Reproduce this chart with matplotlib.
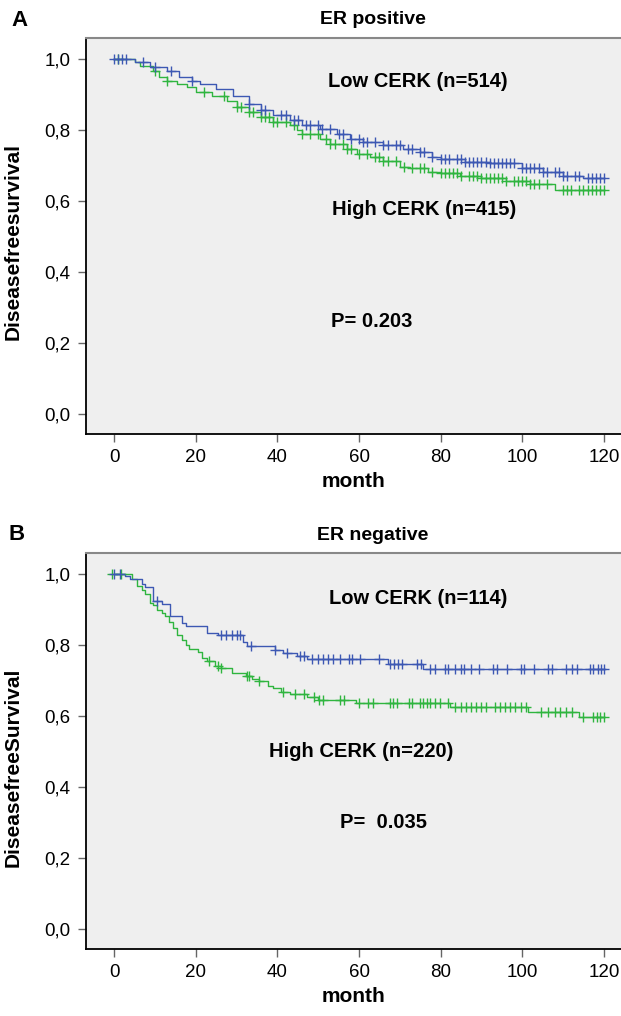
import numpy as np
import matplotlib
matplotlib.use("Agg")
import matplotlib.pyplot as plt

plt.rcParams['font.family'] = ['Liberation Sans', 'DejaVu Sans']

# ---- data (Kaplan-Meier steps: time of drop, survival after drop)
yticks = [0.0, 0.2, 0.4, 0.6, 0.8, 1.0]
ytick_labels = ['0,0', '0,2', '0,4', '0,6', '0,8', '1,0']
xticks = [0, 20, 40, 60, 80, 100, 120]

# A: ER positive
pos_low_t = [0, 5, 8.8, 13, 16, 19, 21, 25, 29, 33, 36, 39, 43, 46, 50.5, 54.5, 57.8,
             61, 66, 70.8, 75, 78, 80, 86, 92, 100, 105, 110, 115]
pos_low_s = [1.0, 0.99, 0.976, 0.966, 0.947, 0.938, 0.929, 0.915, 0.896, 0.873, 0.856,
             0.84, 0.826, 0.812, 0.803, 0.789, 0.775, 0.765, 0.756, 0.747, 0.737, 0.723,
             0.719, 0.709, 0.705, 0.691, 0.681, 0.671, 0.663]
pos_low_cens = [0, 1, 2, 3, 7, 10, 14, 19, 33, 36, 37, 41, 42, 44, 45, 47, 48, 50, 51, 53,
                55, 56, 58, 60, 61, 62, 64, 66, 67, 69, 70, 72, 73, 75, 76, 78, 80, 81, 82,
                84, 85, 86, 87, 88, 89, 90, 91, 92, 93, 94, 95, 96, 97, 98, 100, 101, 102,
                103, 104, 105, 106, 108, 109, 110, 111, 113, 114, 116, 117, 118, 119, 120]

pos_high_t = [0, 5, 6.4, 9.6, 10.9, 13, 15.4, 17.8, 20, 24, 27.6, 30, 33, 36, 39, 43, 44.8,
              46, 50.5, 53, 57, 59.5, 62.7, 66, 70, 72.5, 77, 80, 84.7, 90, 96, 102, 108]
pos_high_s = [1.0, 0.99, 0.98, 0.966, 0.947, 0.938, 0.929, 0.919, 0.906, 0.896, 0.882,
              0.863, 0.849, 0.835, 0.821, 0.812, 0.798, 0.789, 0.775, 0.761, 0.747, 0.733,
              0.723, 0.713, 0.695, 0.691, 0.681, 0.678, 0.671, 0.663, 0.657, 0.648, 0.629]
pos_high_cens = [1, 10, 13, 22, 27, 30, 31, 33, 34, 36, 37, 38, 39, 40, 42, 44, 46, 48, 50,
                 52, 53, 54, 56, 57, 58, 60, 62, 64, 65, 66, 67, 69, 71, 73, 75, 76, 78, 80,
                 81, 82, 83, 84, 85, 87, 88, 89, 90, 91, 92, 93, 94, 95, 96, 98, 99, 100,
                 101, 102, 103, 104, 106, 110, 111, 112, 114, 115, 116, 117, 118, 119, 120]

# B: ER negative
neg_low_t = [0, 2.7, 3.9, 6.8, 7.6, 9.6, 11.7, 13.7, 16.6, 17.6, 22.7, 25.5, 31.5, 32.5,
             39.3, 41.4, 44.8, 47.3, 67.1, 75.6]
neg_low_s = [1.0, 0.992, 0.986, 0.971, 0.961, 0.924, 0.915, 0.880, 0.862, 0.852, 0.834,
             0.826, 0.807, 0.797, 0.786, 0.776, 0.767, 0.760, 0.745, 0.732]
neg_low_cens = [0, 1.5, 10.5, 26.3, 27.5, 28.8, 30.0, 30.9, 33.6, 39.4, 42.3, 45.6, 46.5,
                48.6, 49.9, 51.1, 52.4, 53.7, 55.4, 57.5, 58.3, 60.2, 65.0, 67.6, 68.6, 69.6,
                70.6, 74.3, 75.2, 77.3, 78.5, 81.1, 81.9, 83.6, 85.1, 85.7, 87.4, 89.5, 92.9,
                93.7, 96.3, 99.6, 100.5, 103.0, 106.4, 107.2, 110.6, 112.3, 113.5, 116.5,
                117.4, 118.6, 119.4, 120]

neg_high_t = [0, 4.3, 5.6, 6.8, 7.6, 8.7, 9.6, 10.6, 11.7, 12.5, 13.5, 14.5, 15.5, 16.6,
              17.6, 18.4, 20.6, 21.5, 22.7, 24.7, 26.3, 28.8, 32.2, 33.9, 35.5, 37.6, 38.9,
              41.0, 43.1, 47.3, 50.0, 59.2, 82.3, 101.3, 114.0]
neg_high_s = [1.0, 0.986, 0.964, 0.955, 0.943, 0.917, 0.913, 0.899, 0.889, 0.880, 0.865,
              0.847, 0.828, 0.814, 0.800, 0.788, 0.779, 0.764, 0.753, 0.739, 0.734, 0.720,
              0.711, 0.703, 0.697, 0.685, 0.678, 0.666, 0.662, 0.653, 0.645, 0.636, 0.626,
              0.612, 0.597]
neg_high_cens = [-0.5, 1.6, 23.3, 25.4, 26.3, 32.6, 33.0, 35.5, 41.4, 44.4, 46.5, 49.0, 50.3,
                 51.1, 55.4, 56.2, 60.0, 62.1, 63.4, 67.6, 68.4, 69.3, 72.2, 73.1, 74.9, 75.7,
                 76.6, 77.3, 78.5, 79.8, 81.9, 83.6, 84.9, 86.1, 87.4, 88.7, 89.9, 91.2, 93.3,
                 94.5, 95.8, 97.1, 98.3, 99.6, 100.9, 104.7, 106.4, 108.1, 109.3, 110.6, 112.3,
                 114.8, 117.4, 118.2, 119.0, 120]

BLUE = '#3d58b3'
GREEN = '#2fb53f'
BG = '#efefef'


def km_value(times, surv, t):
    idx = np.searchsorted(np.asarray(times), t, side='right') - 1
    idx = max(idx, 0)
    return surv[idx]


def draw_km(ax, times, surv, cens, color, t_end=120):
    tt = list(times) + [t_end]
    ss = list(surv) + [surv[-1]]
    ax.step(tt, ss, where='post', color=color, lw=1.0, zorder=3)
    cy = [km_value(times, surv, c) for c in cens]
    ax.plot(cens, cy, ls='none', marker='+', ms=7, mew=1.0, color=color, zorder=4)


def style_axes(ax, ylabel, ylab_y):
    ax.set_facecolor(BG)
    ax.set_xlim(-6.9, 124.2)
    ax.set_ylim(-0.056, 1.058)
    ax.set_xticks(xticks)
    ax.set_yticks(yticks)
    ax.set_yticklabels(ytick_labels)
    ax.tick_params(direction='out', length=6, width=1, color='#666666',
                   labelsize=13.5, pad=5)
    ax.spines['right'].set_visible(False)
    ax.spines['top'].set_color('#888888')
    ax.spines['top'].set_linewidth(1.5)
    ax.spines['left'].set_linewidth(1.3)
    ax.spines['bottom'].set_linewidth(1.3)
    ax.set_xlabel('month', fontsize=15, fontweight='bold', labelpad=4)
    ax.set_ylabel(ylabel, fontsize=15, fontweight='bold')
    ax.yaxis.set_label_coords(-0.118, ylab_y)


fig = plt.figure(figsize=(6.21, 10.16), dpi=100)
W, H = 621.0, 1016.0

ax1 = fig.add_axes([86 / W, 1 - 434 / H, 1 - 86 / W, 396 / H])
ax2 = fig.add_axes([86 / W, 1 - 949 / H, 1 - 86 / W, 396 / H])

draw_km(ax1, pos_high_t, pos_high_s, pos_high_cens, GREEN)
draw_km(ax1, pos_low_t, pos_low_s, pos_low_cens, BLUE)
draw_km(ax2, neg_high_t, neg_high_s, neg_high_cens, GREEN)
draw_km(ax2, neg_low_t, neg_low_s, neg_low_cens, BLUE)

style_axes(ax1, 'Diseasefreesurvival', 0.485)
style_axes(ax2, 'DiseasefreeSurvival', 0.46)

txt = dict(fontsize=14.5, fontweight='bold', ha='center', va='center')
ax1.text(74.5, 0.935, 'Low CERK (n=514)', **txt)
ax1.text(76, 0.575, 'High CERK (n=415)', **txt)
ax1.text(63, 0.26, 'P= 0.203', **txt)
ax2.text(74.5, 0.93, 'Low CERK (n=114)', **txt)
ax2.text(60.5, 0.50, 'High CERK (n=220)', **txt)
ax2.text(66, 0.30, 'P=  0.035', **txt)

fig.text(373 / W, 1 - 20 / H, 'ER positive', fontsize=14, fontweight='bold',
         ha='center', va='center')
fig.text(373 / W, 1 - 535 / H, 'ER negative', fontsize=14, fontweight='bold',
         ha='center', va='center')
fig.text(20 / W, 1 - 20 / H, 'A', fontsize=16, fontweight='bold', ha='center', va='center')
fig.text(17 / W, 1 - 534 / H, 'B', fontsize=16, fontweight='bold', ha='center', va='center')

fig.savefig('out.png', dpi=100, facecolor='white')
